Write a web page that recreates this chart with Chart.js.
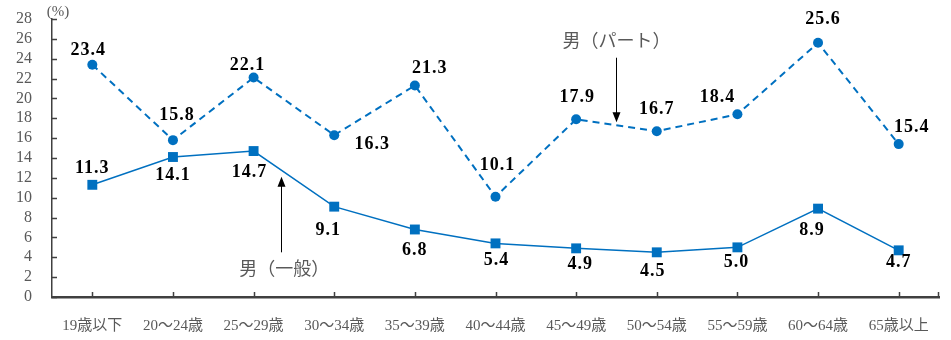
<!DOCTYPE html>
<html>
<head>
<meta charset="utf-8">
<script src="https://cdn.jsdelivr.net/npm/chart.js@4.4.0/dist/chart.umd.min.js"></script>
<style>
  html, body { margin: 0; padding: 0; background: #fff; }
  #wrap { width: 951px; height: 340px; position: relative; }
</style>
</head>
<body>
<div id="wrap"><canvas id="c"></canvas></div>
<script>
// 年齢階級
const categories = ['19歳以下', '20～24歳', '25～29歳', '30～34歳', '35～39歳', '40～44歳',
  '45～49歳', '50～54歳', '55～59歳', '60～64歳', '65歳以上'];
// 男（パート）
const partValues = [23.4, 15.8, 22.1, 16.3, 21.3, 10.1, 17.9, 16.7, 18.4, 25.6, 15.4];
// 男（一般）
const generalValues = [11.3, 14.1, 14.7, 9.1, 6.8, 5.4, 4.9, 4.5, 5.0, 8.9, 4.7];
const yTicks = [0, 2, 4, 6, 8, 10, 12, 14, 16, 18, 20, 22, 24, 26, 28];

// ラベルのずらし量 (px)
const partLabelOffset = [[-4, -14], [4, -25], [-6, -12], [38, 9], [15, -17], [2, -31],
  [1, -22], [0, -22], [-20, -17], [5, -23], [13, -17]];
const generalLabelOffset = [[0, -16], [0, 18], [-4, 21], [-6, 24], [0, 21], [1, 17],
  [4, 16], [-4, 19], [-1, 15], [-6, 22], [0, 12]];

const BLUE = '#0070C0';
const GREY = '#595959';
const AXIS = '#404040';

const valueLabels = {
  id: 'valueLabels',
  afterDatasetsDraw(chart) {
    const ctx = chart.ctx;
    ctx.save();
    ctx.font = 'bold 18px "Liberation Serif", serif';
    ctx.letterSpacing = '1px';
    ctx.fillStyle = '#000';
    ctx.textAlign = 'center';
    ctx.textBaseline = 'middle';
    const offs = [partLabelOffset, generalLabelOffset];
    chart.data.datasets.forEach((ds, i) => {
      chart.getDatasetMeta(i).data.forEach((pt, j) => {
        const o = offs[i][j];
        ctx.fillText(ds.data[j].toFixed(1), pt.x + o[0], pt.y + o[1]);
      });
    });
    ctx.restore();
  }
};

const axisDecor = {
  id: 'axisDecor',
  afterDraw(chart) {
    const ctx = chart.ctx;
    const x = chart.scales.x, y = chart.scales.y;
    const area = chart.chartArea;
    ctx.save();
    ctx.strokeStyle = AXIS;
    ctx.lineWidth = 1.5;
    ctx.beginPath();
    yTicks.forEach(v => {
      const py = Math.round(y.getPixelForValue(v)) + 0.5;
      ctx.moveTo(area.left, py);
      ctx.lineTo(area.left + 5, py);
    });
    categories.forEach((c, i) => {
      const px = Math.round(x.getPixelForValue(i)) + 0.5;
      ctx.moveTo(px, area.bottom);
      ctx.lineTo(px, area.bottom - 5);
    });
    ctx.moveTo(area.right - 0.5, area.bottom);
    ctx.lineTo(area.right - 0.5, area.bottom - 5);
    ctx.stroke();

    // (%)
    ctx.fillStyle = GREY;
    ctx.font = '15px "Liberation Serif", serif';
    ctx.textAlign = 'center';
    ctx.textBaseline = 'middle';
    ctx.fillText('(%)', area.left + 6, 12);

    // 注記と矢印
    const notes = [
      { text: '男（パート）', tx: 6.5, ty: 25.9, ax: 6.5, from: 24.1, to: 17.6 },
      { text: '男（一般）', tx: 2.38, ty: 2.9, ax: 2.34, from: 4.5, to: 12.1 }
    ];
    ctx.font = '18px "Noto Sans CJK JP", sans-serif';
    notes.forEach(n => {
      ctx.fillStyle = GREY;
      ctx.fillText(n.text, x.getPixelForValue(n.tx), y.getPixelForValue(n.ty));
      const ax = Math.round(x.getPixelForValue(n.ax)) + 0.5;
      const y1 = y.getPixelForValue(n.from), y2 = y.getPixelForValue(n.to);
      const dir = y2 > y1 ? 1 : -1;
      ctx.strokeStyle = '#000';
      ctx.lineWidth = 1;
      ctx.beginPath();
      ctx.moveTo(ax, y1);
      ctx.lineTo(ax, y2 - dir * 8);
      ctx.stroke();
      ctx.fillStyle = '#000';
      ctx.beginPath();
      ctx.moveTo(ax, y2);
      ctx.lineTo(ax - 4, y2 - dir * 10);
      ctx.lineTo(ax + 4, y2 - dir * 10);
      ctx.closePath();
      ctx.fill();
    });
    ctx.restore();
  }
};

new Chart(document.getElementById('c'), {
  type: 'line',
  data: {
    labels: categories,
    datasets: [
      {
        label: '男（パート）',
        data: partValues,
        borderColor: BLUE,
        backgroundColor: BLUE,
        borderWidth: 2,
        borderDash: [7, 5],
        pointStyle: 'circle',
        pointRadius: 5,
        pointBorderWidth: 0,
        tension: 0,
      },
      {
        label: '男（一般）',
        data: generalValues,
        borderColor: BLUE,
        backgroundColor: BLUE,
        borderWidth: 1.5,
        pointStyle: 'rect',
        pointRadius: 7,
        pointBorderWidth: 0,
        tension: 0,
      },
    ],
  },
  options: {
    responsive: true,
    maintainAspectRatio: false,
    animation: false,
    layout: { padding: { top: 19, right: 12, left: 0, bottom: 0 } },
    plugins: {
      legend: { display: false },
      tooltip: { enabled: false },
    },
    scales: {
      x: {
        offset: true,
        grid: { display: false, offset: false },
        border: { display: true, color: AXIS, width: 2.5 },
        ticks: {
          color: GREY,
          font: { size: 15, family: '"Liberation Serif", "Noto Sans CJK JP", serif' },
          padding: 12,
          maxRotation: 0,
          autoSkip: false,
        },
        afterFit(scale) { scale.height = 43; },
      },
      y: {
        min: 0,
        max: 28,
        afterBuildTicks(scale) { scale.ticks = yTicks.map(v => ({ value: v })); },
        grid: { display: false, drawTicks: false },
        border: { display: true, color: AXIS, width: 1.5 },
        ticks: {
          color: GREY,
          font: { size: 16, family: '"Liberation Serif", serif' },
          padding: 20,
          autoSkip: false,
        },
        afterFit(scale) {
          scale.width = 52;
          scale.paddingTop = 0;
          scale.paddingBottom = 0;
        },
      },
    },
  },
  plugins: [valueLabels, axisDecor],
});
</script>
</body>
</html>
